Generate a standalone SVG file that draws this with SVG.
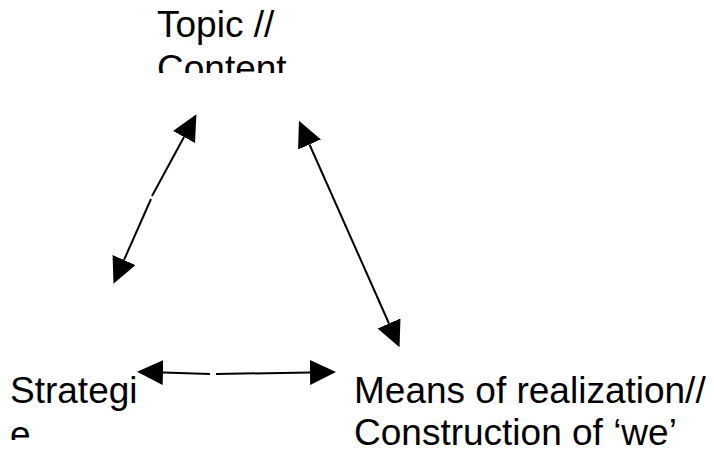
<svg xmlns="http://www.w3.org/2000/svg" width="714" height="449" viewBox="0 0 714 449">
  <style>
    .lbl { font-family: "Liberation Sans", Arial, sans-serif; font-size: 37px; fill: #000; }
    .conn { stroke: #000; stroke-width: 2; fill: none; }
  </style>
  <defs>
    <marker id="head" markerUnits="userSpaceOnUse" markerWidth="28" markerHeight="27" refX="0" refY="12.5" orient="auto-start-reverse" viewBox="0 0 28 27">
      <path d="M0,0 L26,12.5 L0,25 Z" fill="#000"/>
    </marker>
    <clipPath id="clipTopic"><rect x="0" y="0" width="714" height="73"/></clipPath>
    <clipPath id="clipStrat"><rect x="0" y="340" width="714" height="100"/></clipPath>
  </defs>
  <rect width="714" height="449" fill="#fff"/>
  <g id="topic" clip-path="url(#clipTopic)">
    <text class="lbl" x="157" y="37">Topic //</text>
    <text class="lbl" x="157" y="81">Content</text>
  </g>
  <g id="strategie" clip-path="url(#clipStrat)">
    <text class="lbl" x="10" y="403">Strategi</text>
    <text class="lbl" x="10" y="447">e</text>
  </g>
  <g id="means">
    <text class="lbl" x="354" y="403">Means of realization//</text>
    <text class="lbl" x="354" y="445">Construction of ‘we’</text>
  </g>
  <g id="connectors">
    <path class="conn" d="M184,137 L152,196" marker-start="url(#head)"/>
    <path class="conn" d="M151,199 L124,260" marker-end="url(#head)"/>
    <path class="conn" d="M309.5,144.5 L389,323.5" marker-start="url(#head)" marker-end="url(#head)"/>
    <path class="conn" d="M163,372.5 L210,374" marker-start="url(#head)"/>
    <path class="conn" d="M216,374 L310,372.5" marker-end="url(#head)"/>
  </g>
</svg>
